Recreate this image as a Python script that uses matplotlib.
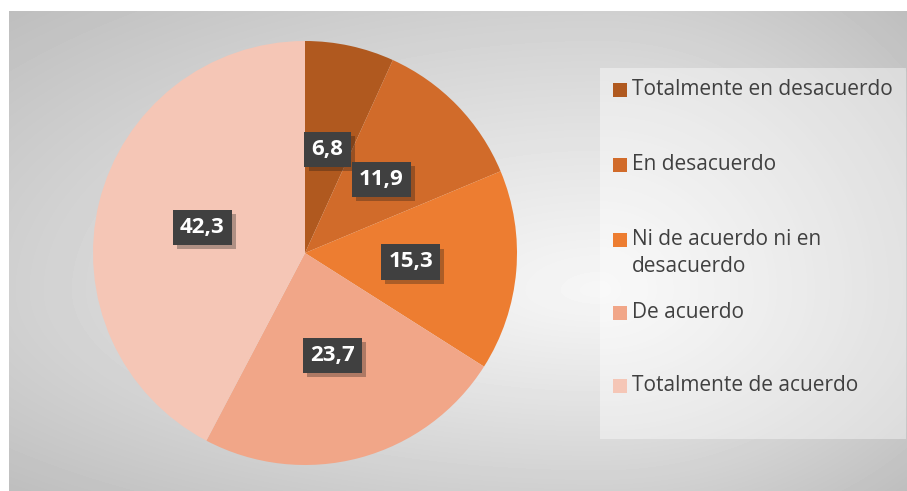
import matplotlib.pyplot as plt
import matplotlib.patheffects as pe
from matplotlib.patches import Rectangle
import numpy as np

categories = ["Totalmente en desacuerdo", "En desacuerdo",
              "Ni de acuerdo ni en\ndesacuerdo", "De acuerdo",
              "Totalmente de acuerdo"]
values = [6.8, 11.9, 15.3, 23.7, 42.3]
colors = ["#B0591F", "#D16B2A", "#ED7D31", "#F1A688", "#F5C6B6"]

W, H = 907, 491
plt.rcParams['font.family'] = ['Open Sans', 'DejaVu Sans']

fig = plt.figure(figsize=(W / 100, H / 100), dpi=100)

# gradient background of the chart area
bg = fig.add_axes([9 / W, 0, (W - 9) / W, (H - 11) / H])
yy, xx = np.mgrid[11:H, 9:W].astype(float)
nx = (xx - 600) / np.where(xx < 600, 591, 306)
ny = (yy - 290) / np.where(yy < 290, 279, 201)
r = np.clip(np.sqrt(nx ** 2 + ny ** 2) / np.sqrt(2), 0, 1)
g = (246 - 56 * r ** 1.1) / 255
bg.imshow(g, cmap='gray', vmin=0, vmax=1, aspect='auto',
          extent=(0, 1, 0, 1), interpolation='bilinear')
bg.set_xlim(0, 1)
bg.set_ylim(0, 1)
bg.axis('off')

# legend panel
fig.patches.append(Rectangle((600 / W, 1 - 439 / H), 306 / W, 371 / H,
                             transform=fig.transFigure, fc='white',
                             alpha=0.4, ec='none'))

# pie
R = 212
cx, cy = 305, 253
ax = fig.add_axes([(cx - R) / W, (H - cy - R) / H, 2 * R / W, 2 * R / H])
wedges, texts, autotexts = ax.pie(
    values, colors=colors, startangle=90, counterclock=False,
    autopct=lambda p: f"{p:.1f}".replace('.', ','), pctdistance=0.5,
    wedgeprops=dict(linewidth=0))
ax.set_xlim(-1, 1)
ax.set_ylim(-1, 1)

for t in autotexts:
    t.set_color('white')
    t.set_fontweight('bold')
    t.set_fontsize(16)
    t.set_bbox(dict(boxstyle='square,pad=0.32', fc='#404040', ec='none'))
    t.get_bbox_patch().set_path_effects(
        [pe.SimplePatchShadow(offset=(3, -3), alpha=0.3), pe.Normal()])

# legend entries
leg_y = [90, 165, 240, 313, 386]
for lab, col, y in zip(categories, colors, leg_y):
    fig.patches.append(Rectangle((613 / W, 1 - (y + 7) / H), 14 / W, 14 / H,
                                 transform=fig.transFigure, fc=col, ec='none'))
    fig.text(632 / W, 1 - (y - 11) / H, lab, color='#404040', fontsize=15,
             va='top', ha='left', linespacing=1.35)

fig.savefig('out.png', dpi=100)
